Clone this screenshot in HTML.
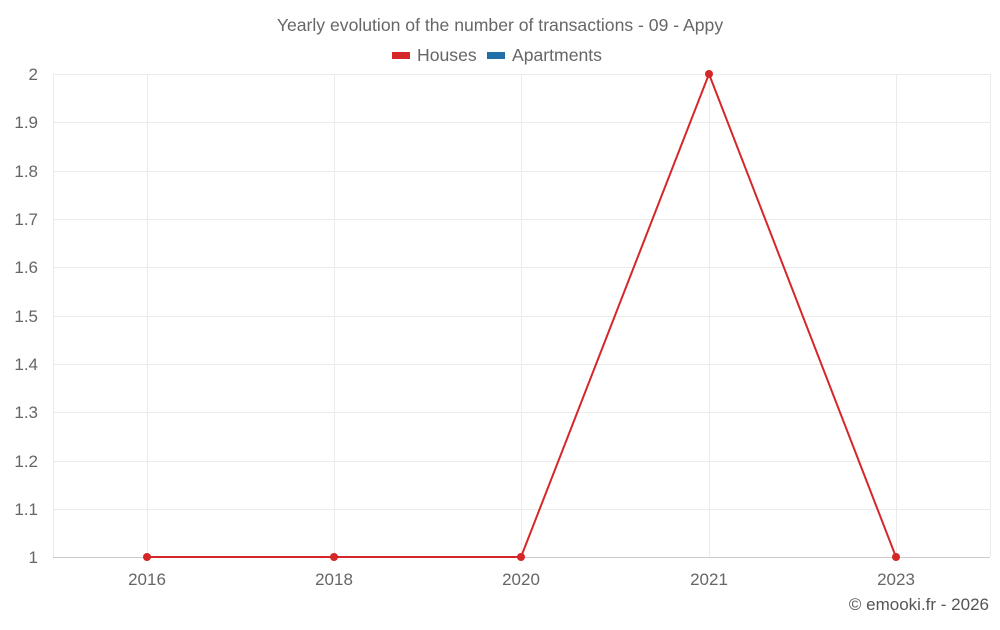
<!DOCTYPE html>
<html><head><style>
body{margin:0;background:#fff;width:1000px;height:625px;overflow:hidden;font-family:"Liberation Sans",sans-serif;}
</style></head><body>
<svg width="1000" height="625" xmlns="http://www.w3.org/2000/svg" font-family="Liberation Sans, sans-serif">
<text x="500" y="31" text-anchor="middle" font-size="17.6" fill="#666">Yearly evolution of the number of transactions - 09 - Appy</text>
<rect x="392" y="52" width="18" height="7" fill="#d62728"/>
<text x="417" y="61" font-size="17.6" fill="#666">Houses</text>
<rect x="487" y="52" width="18" height="7" fill="#1f6fa8"/>
<text x="512" y="61" font-size="17.6" fill="#666">Apartments</text>
<g stroke="#ebebeb" stroke-width="1">
<line x1="53" x2="990" y1="74.5" y2="74.5"/>
<line x1="53" x2="990" y1="122.5" y2="122.5"/>
<line x1="53" x2="990" y1="171.5" y2="171.5"/>
<line x1="53" x2="990" y1="219.5" y2="219.5"/>
<line x1="53" x2="990" y1="267.5" y2="267.5"/>
<line x1="53" x2="990" y1="316.5" y2="316.5"/>
<line x1="53" x2="990" y1="364.5" y2="364.5"/>
<line x1="53" x2="990" y1="412.5" y2="412.5"/>
<line x1="53" x2="990" y1="461.5" y2="461.5"/>
<line x1="53" x2="990" y1="509.5" y2="509.5"/>
<line x1="53.5" x2="53.5" y1="74" y2="557"/>
<line x1="147.5" x2="147.5" y1="74" y2="557"/>
<line x1="334.5" x2="334.5" y1="74" y2="557"/>
<line x1="521.5" x2="521.5" y1="74" y2="557"/>
<line x1="709.5" x2="709.5" y1="74" y2="557"/>
<line x1="896.5" x2="896.5" y1="74" y2="557"/>
<line x1="990.5" x2="990.5" y1="74" y2="557"/>
</g>
<line x1="53" x2="990" y1="557.5" y2="557.5" stroke="#ccc"/>
<g font-size="17" fill="#666" text-anchor="end">
<text x="38" y="80">2</text><text x="38" y="128">1.9</text><text x="38" y="177">1.8</text>
<text x="38" y="225">1.7</text><text x="38" y="273">1.6</text><text x="38" y="322">1.5</text>
<text x="38" y="370">1.4</text><text x="38" y="418">1.3</text><text x="38" y="467">1.2</text>
<text x="38" y="515">1.1</text><text x="38" y="563">1</text>
</g>
<g font-size="17" fill="#666" text-anchor="middle">
<text x="147" y="585">2016</text><text x="334" y="585">2018</text><text x="521" y="585">2020</text>
<text x="709" y="585">2021</text><text x="896" y="585">2023</text>
</g>
<polyline points="147,557 334,557 521,557 709,74 896,557" fill="none" stroke="#d62728" stroke-width="2"/>
<g fill="#d62728">
<circle cx="147" cy="557" r="4"/><circle cx="334" cy="557" r="4"/><circle cx="521" cy="557" r="4"/>
<circle cx="709" cy="74" r="4"/><circle cx="896" cy="557" r="4"/>
</g>
<text x="989" y="610" text-anchor="end" font-size="17" fill="#555">© emooki.fr - 2026</text>
</svg>
</body></html>
